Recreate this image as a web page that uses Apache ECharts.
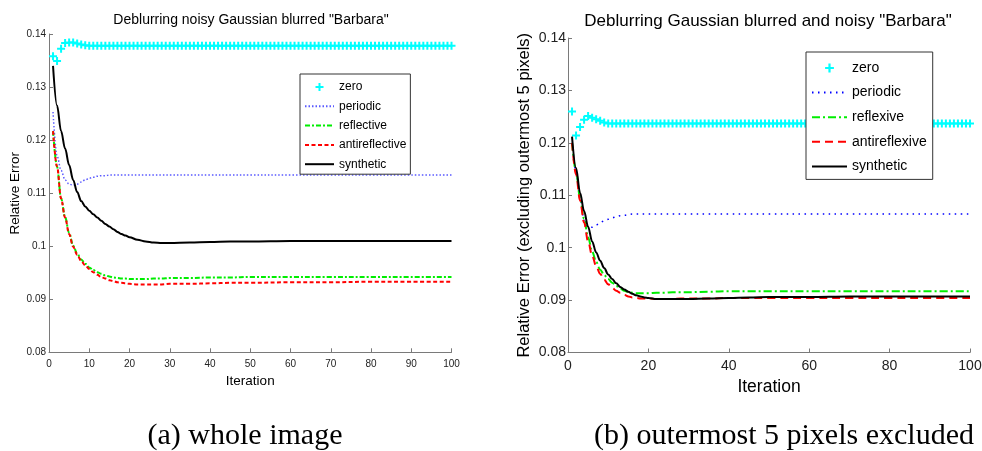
<!DOCTYPE html>
<html>
<head>
    <meta charset="utf-8">
    <title>Deblurring Barbara</title>
    <script src="https://cdn.jsdelivr.net/npm/echarts@6/dist/echarts.min.js"></script>
    <style>
        html, body { margin: 0; padding: 0; background: #fff; }
    </style>
</head>
<body>
    <div id="main" style="width: 982px;height:451px;"></div>
    <script type="text/javascript">
        var myChart = echarts.init(document.getElementById('main'));

var lineIter = [1, 2, 3, 4, 5, 6, 7, 8, 9, 10, 11, 12, 13, 14, 15, 16, 17, 18, 19, 20,
    22, 24, 26, 28, 30, 35, 40, 45, 50, 60, 70, 80, 90, 100];

var xTicksA = [0, 10, 20, 30, 40, 50, 60, 70, 80, 90, 100];
var xTicksB = [0, 20, 40, 60, 80, 100];
var yTicks = [0.08, 0.09, 0.1, 0.11, 0.12, 0.13, 0.14];

// (a) whole image
var zeroA = [
    0.1358, 0.1349, 0.1372, 0.1383, 0.1384, 0.1384, 0.1382, 0.1380, 0.1379, 0.1378,
    0.1378, 0.1378, 0.1378, 0.1378, 0.1378, 0.1378, 0.1378, 0.1378, 0.1378, 0.1378,
    0.1378, 0.1378, 0.1378, 0.1378, 0.1378, 0.1378, 0.1378, 0.1378, 0.1378, 0.1378,
    0.1378, 0.1378, 0.1378, 0.1378, 0.1378, 0.1378, 0.1378, 0.1378, 0.1378, 0.1378,
    0.1378, 0.1378, 0.1378, 0.1378, 0.1378, 0.1378, 0.1378, 0.1378, 0.1378, 0.1378,
    0.1378, 0.1378, 0.1378, 0.1378, 0.1378, 0.1378, 0.1378, 0.1378, 0.1378, 0.1378,
    0.1378, 0.1378, 0.1378, 0.1378, 0.1378, 0.1378, 0.1378, 0.1378, 0.1378, 0.1378,
    0.1378, 0.1378, 0.1378, 0.1378, 0.1378, 0.1378, 0.1378, 0.1378, 0.1378, 0.1378,
    0.1378, 0.1378, 0.1378, 0.1378, 0.1378, 0.1378, 0.1378, 0.1378, 0.1378, 0.1378,
    0.1378, 0.1378, 0.1378, 0.1378, 0.1378, 0.1378, 0.1378, 0.1378, 0.1378, 0.1378
];
var periodicA = [0.1253, 0.1170, 0.1143, 0.1125, 0.1117, 0.1115, 0.1117, 0.1121, 0.1125, 0.1128,
    0.1130, 0.1132, 0.1133, 0.1133, 0.1134, 0.1134, 0.1134, 0.1134, 0.1134, 0.1134,
    0.1134, 0.1134, 0.1134, 0.1134, 0.1134, 0.1134, 0.1134, 0.1134, 0.1134, 0.1134,
    0.1134, 0.1134, 0.1134, 0.1134];
var reflectiveA = [0.1217, 0.1150, 0.1090, 0.1055, 0.1025, 0.1001, 0.0986, 0.0975, 0.0967, 0.0960,
    0.0955, 0.0951, 0.0948, 0.0945, 0.0943, 0.0941, 0.0940, 0.0939, 0.0939, 0.0938,
    0.0938, 0.0938, 0.0939, 0.0939, 0.0940, 0.0940, 0.0941, 0.0941, 0.0942, 0.0942,
    0.0942, 0.0942, 0.0942, 0.0942];
var antireflectiveA = [0.1217, 0.1150, 0.1090, 0.1054, 0.1023, 0.0999, 0.0984, 0.0972, 0.0964, 0.0957,
    0.0951, 0.0946, 0.0942, 0.0939, 0.0936, 0.0934, 0.0932, 0.0931, 0.0930, 0.0929,
    0.0928, 0.0928, 0.0928, 0.0928, 0.0929, 0.0929, 0.0930, 0.0931, 0.0931, 0.0932,
    0.0932, 0.0933, 0.0933, 0.0933];
var syntheticA = [0.1340, 0.1265, 0.1217, 0.1184, 0.1153, 0.1125, 0.1102, 0.1085, 0.1075, 0.1067,
    0.1060, 0.1054, 0.1048, 0.1042, 0.1037, 0.1032, 0.1027, 0.1023, 0.1020, 0.1017,
    0.1012, 0.1009, 0.1007, 0.1006, 0.1006, 0.1007, 0.1008, 0.1009, 0.1009, 0.1010,
    0.1010, 0.1010, 0.1010, 0.1010];

// (b) outermost 5 pixels excluded
var zeroB = [
    0.1260, 0.1214, 0.1230, 0.1244, 0.1251, 0.1248, 0.1245, 0.1242, 0.1239, 0.1237,
    0.1237, 0.1237, 0.1237, 0.1237, 0.1237, 0.1237, 0.1237, 0.1237, 0.1237, 0.1237,
    0.1237, 0.1237, 0.1237, 0.1237, 0.1237, 0.1237, 0.1237, 0.1237, 0.1237, 0.1237,
    0.1237, 0.1237, 0.1237, 0.1237, 0.1237, 0.1237, 0.1237, 0.1237, 0.1237, 0.1237,
    0.1237, 0.1237, 0.1237, 0.1237, 0.1237, 0.1237, 0.1237, 0.1237, 0.1237, 0.1237,
    0.1237, 0.1237, 0.1237, 0.1237, 0.1237, 0.1237, 0.1237, 0.1237, 0.1237, 0.1237,
    0.1237, 0.1237, 0.1237, 0.1237, 0.1237, 0.1237, 0.1237, 0.1237, 0.1237, 0.1237,
    0.1237, 0.1237, 0.1237, 0.1237, 0.1237, 0.1237, 0.1237, 0.1237, 0.1237, 0.1237,
    0.1237, 0.1237, 0.1237, 0.1237, 0.1237, 0.1237, 0.1237, 0.1237, 0.1237, 0.1237,
    0.1237, 0.1237, 0.1237, 0.1237, 0.1237, 0.1237, 0.1237, 0.1237, 0.1237, 0.1237
];
var periodicB = [0.1200, 0.1145, 0.1095, 0.1052, 0.1039, 0.1039, 0.1043, 0.1048, 0.1051, 0.1054,
    0.1057, 0.1059, 0.1061, 0.1062, 0.1063, 0.1064, 0.1064, 0.1064, 0.1064, 0.1064,
    0.1064, 0.1064, 0.1064, 0.1064, 0.1064, 0.1064, 0.1064, 0.1064, 0.1064, 0.1064,
    0.1064, 0.1064, 0.1064, 0.1064];
var reflexiveB = [0.1200, 0.1145, 0.1095, 0.1055, 0.1020, 0.0993, 0.0973, 0.0958, 0.0948, 0.0940,
    0.0933, 0.0927, 0.0922, 0.0918, 0.0915, 0.0914, 0.0913, 0.0913, 0.0913, 0.0913,
    0.0914, 0.0914, 0.0915, 0.0915, 0.0915, 0.0916, 0.0917, 0.0917, 0.0917, 0.0917,
    0.0917, 0.0917, 0.0917, 0.0917];
var antireflexiveB = [0.1200, 0.1140, 0.1090, 0.1048, 0.1012, 0.0985, 0.0965, 0.0950, 0.0939, 0.0930,
    0.0923, 0.0918, 0.0914, 0.0910, 0.0907, 0.0905, 0.0904, 0.0903, 0.0903, 0.0903,
    0.0902, 0.0902, 0.0902, 0.0903, 0.0903, 0.0903, 0.0904, 0.0904, 0.0904, 0.0904,
    0.0904, 0.0904, 0.0904, 0.0904];
var syntheticB = [0.1212, 0.1152, 0.1105, 0.1070, 0.1040, 0.1012, 0.0991, 0.0975, 0.0961, 0.0949,
    0.0940, 0.0932, 0.0925, 0.0920, 0.0916, 0.0912, 0.0909, 0.0907, 0.0905, 0.0904,
    0.0902, 0.0902, 0.0902, 0.0902, 0.0902, 0.0903, 0.0904, 0.0905, 0.0906, 0.0906,
    0.0907, 0.0907, 0.0907, 0.0907];

var legendNamesA = ['zero', 'periodic', 'reflective', 'antireflective', 'synthetic'];
var legendNamesB = ['zero_b', 'periodic_b', 'reflexive', 'antireflexive', 'synthetic_b'];

var plusSymbol = 'path://M3,0H5V3H8V5H5V8H3V5H0V3H3Z';
var axisGrey = '#7a7a7a';

function pairs(xs, ys) {
    return ys.map(function (y, i) { return [xs[i], y]; });
}
function everyIter(ys) {
    return ys.map(function (y, i) { return [i + 1, y]; });
}
// legend entries: the line ones get no marker in the middle
function legendData(names) {
    return names.map(function (n, i) {
        if (i === 0) return { name: n };
        return { name: n, itemStyle: { opacity: 0, color: 'rgba(0,0,0,0)', borderWidth: 0 } };
    });
}

function makeX(idx, ticks, fs, nameFs, nameGap) {
    return {
        type: 'value', gridIndex: idx,
        min: ticks[0], max: ticks[ticks.length - 1], interval: ticks[1] - ticks[0],
        name: 'Iteration', nameLocation: 'middle', nameGap: nameGap,
        nameTextStyle: { fontSize: nameFs, color: '#000' },
        axisLine: { show: true, lineStyle: { color: axisGrey, width: 1 } },
        axisTick: { show: true, inside: true, length: 4, lineStyle: { color: axisGrey } },
        axisLabel: { fontSize: fs, color: '#222', margin: 7 },
        splitLine: { show: false }
    };
}
function makeY(idx, name, fs, nameFs, nameGap, margin) {
    return {
        type: 'value', gridIndex: idx,
        min: yTicks[0], max: yTicks[yTicks.length - 1], interval: 0.01,
        name: name, nameLocation: 'middle', nameGap: nameGap,
        nameTextStyle: { fontSize: nameFs, color: '#000' },
        axisLine: { show: true, lineStyle: { color: axisGrey, width: 1 } },
        axisTick: { show: true, inside: true, length: 4, lineStyle: { color: axisGrey } },
        axisLabel: { fontSize: fs, color: '#222', margin: margin },
        splitLine: { show: false }
    };
}

function zeroSeries(name, idx, ys, size) {
    return {
        name: name, type: 'line', xAxisIndex: idx, yAxisIndex: idx,
        data: everyIter(ys),
        symbol: plusSymbol, symbolSize: size, showSymbol: true,
        lineStyle: { width: 0 },
        itemStyle: { color: '#00ffff' },
        silent: true, animation: false
    };
}
function curve(name, idx, ys, color, width, type, z) {
    return {
        name: name, type: 'line', xAxisIndex: idx, yAxisIndex: idx,
        data: pairs(lineIter, ys),
        smooth: 0.35, smoothMonotone: 'x',
        symbol: 'none', showSymbol: false,
        lineStyle: { color: color, width: width, type: type },
        itemStyle: { color: color },
        z: z, silent: true, animation: false
    };
}

option = {
    backgroundColor: '#fff',
    textStyle: { fontFamily: 'Liberation Sans, Arial, sans-serif' },
    animation: false,
    title: [{
        text: 'Deblurring noisy Gaussian blurred "Barbara"',
        left: 251, top: 13, textAlign: 'center', padding: 0,
        textStyle: { fontSize: 14, fontWeight: 'normal', color: '#000' }
    }, {
        text: 'Deblurring Gaussian blurred and noisy "Barbara"',
        left: 768, top: 13, textAlign: 'center', padding: 0,
        textStyle: { fontSize: 17, fontWeight: 'normal', color: '#000' }
    }],
    legend: [{
        data: legendData(legendNamesA),
        orient: 'vertical', left: 300, top: 74,
        padding: [7, 4, 4, 4],
        itemWidth: 29, itemHeight: 10, itemGap: 7.3,
        selectedMode: false,
        borderColor: '#333', borderWidth: 1, backgroundColor: '#fff',
        textStyle: { fontSize: 12, color: '#000' }
    }, {
        data: legendData(legendNamesB),
        formatter: function (name) { return name.replace('_b', ''); },
        orient: 'vertical', left: 806, top: 52,
        padding: [9, 6, 6, 5],
        itemWidth: 35, itemHeight: 11, itemGap: 10.6,
        selectedMode: false,
        borderColor: '#333', borderWidth: 1, backgroundColor: '#fff',
        textStyle: { fontSize: 14, color: '#000' }
    }],
    grid: [{
        left: 49, top: 34, width: 402.5, height: 318.3,
        outerBoundsMode: 'none'
    }, {
        left: 568, top: 38, width: 402, height: 314.5,
        outerBoundsMode: 'none'
    }],
    xAxis: [
        makeX(0, xTicksA, 10, 13.5, 21),
        makeX(1, xTicksB, 14, 17.5, 25)
    ],
    yAxis: [
        makeY(0, 'Relative Error', 10, 13.5, 24, 3),
        makeY(1, 'Relative Error (excluding outermost 5 pixels)', 14, 16.5, 35, 2)
    ],
    series: [
        zeroSeries('zero', 0, zeroA, 8),
        curve('periodic', 0, periodicA, '#5a5aff', 1.5, [1.5, 2], 2),
        curve('reflective', 0, reflectiveA, '#00ee00', 2, [5, 2, 2, 2], 3),
        curve('antireflective', 0, antireflectiveA, '#ff0000', 2, [4, 2.5], 4),
        curve('synthetic', 0, syntheticA, '#000000', 2, 'solid', 5),

        zeroSeries('zero_b', 1, zeroB, 8),
        curve('periodic_b', 1, periodicB, '#0000ff', 1.5, [1.5, 4.5], 2),
        curve('reflexive', 1, reflexiveB, '#00ee00', 2, [8, 3, 2, 3], 3),
        curve('antireflexive', 1, antireflexiveB, '#ff0000', 2, [8, 5], 4),
        curve('synthetic_b', 1, syntheticB, '#000000', 2, 'solid', 5)
    ],
    graphic: [{
        type: 'text', x: 245, y: 436,
        style: {
            text: '(a) whole image', fontSize: 30, fontFamily: 'Liberation Serif',
            fill: '#000', align: 'center', verticalAlign: 'middle'
        }
    }, {
        type: 'text', x: 784, y: 436,
        style: {
            text: '(b) outermost 5 pixels excluded', fontSize: 30, fontFamily: 'Liberation Serif',
            fill: '#000', align: 'center', verticalAlign: 'middle'
        }
    }]
};

        myChart.setOption(option);
    </script>
</body>
</html>
